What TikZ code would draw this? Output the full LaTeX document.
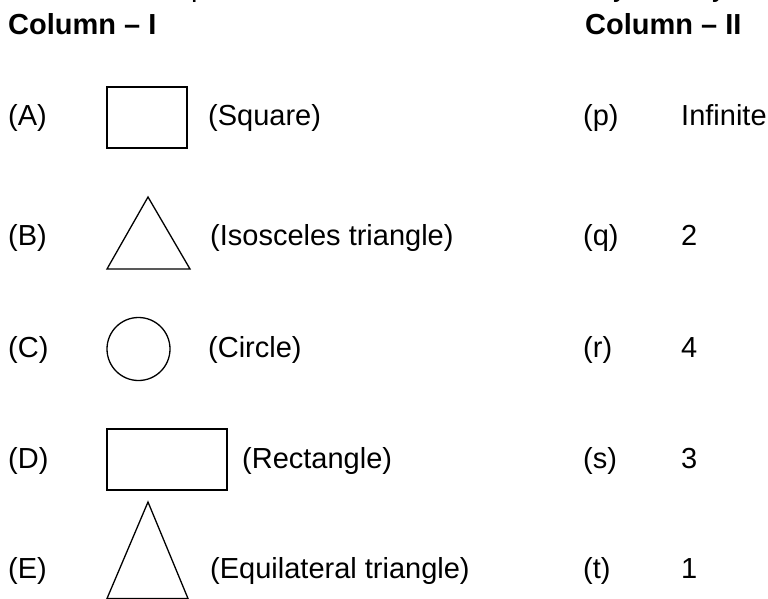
\documentclass[tikz,border=0pt]{standalone}
\usepackage{fontspec}
\setmainfont{Liberation Sans}
\newcommand{\fs}{\fontsize{29}{35}\selectfont}
\begin{document}
\begin{tikzpicture}[x=1pt,y=-1pt,
  shp/.style={line width=1.3pt},
  lbl/.style={anchor=base west, inner sep=0pt, font=\fs},
  hdr/.style={anchor=base west, inner sep=0pt, font=\fs\bfseries}]
\useasboundingbox (0,0) rectangle (768,599);
\clip (0,0) rectangle (768,599);
% cut-off line above
\node[lbl] (frag1) at (191,-3) {p};
\node[lbl] (frag2) at (613,-3) {y};
\node[lbl] (frag3) at (712,-3) {y};
% headers
\node[hdr] (h1) at (8,35) {Column – I};
\node[hdr] (h2) at (585,35) {Column – II};
% row labels
\node[lbl] (A) at (8,125) {(A)};
\node[lbl] (B) at (8,245) {(B)};
\node[lbl] (C) at (8,357) {(C)};
\node[lbl] (D) at (8,468) {(D)};
\node[lbl] (E) at (8,578) {(E)};
% shapes
\draw[shp] (107,87) rectangle (187,148);
\draw[shp] (107,269) -- (148,197) -- (190,269) -- cycle;
\draw[shp] (138.5,349) circle[radius=31.5];
\draw[shp] (107,429) rectangle (227,490);
\draw[shp] (107,598.5) -- (148,502) -- (188,598.5) -- cycle;
% descriptions
\node[lbl] (dA) at (208,125) {(Square)};
\node[lbl] (dB) at (210,245) {(Isosceles triangle)};
\node[lbl] (dC) at (208,357) {(Circle)};
\node[lbl] (dD) at (242,468) {(Rectangle)};
\node[lbl] (dE) at (210,578) {(Equilateral triangle)};
% column II
\node[lbl] (p) at (583,125) {(p)};
\node[lbl] (q) at (583,245) {(q)};
\node[lbl] (r) at (583,357) {(r)};
\node[lbl] (s) at (583,468) {(s)};
\node[lbl] (t) at (583,578) {(t)};
\node[lbl] (vp) at (681,125) {Infinite};
\node[lbl] (vq) at (681,245) {2};
\node[lbl] (vr) at (681,357) {4};
\node[lbl] (vs) at (681,468) {3};
\node[lbl] (vt) at (681,578) {1};
\end{tikzpicture}
\end{document}
